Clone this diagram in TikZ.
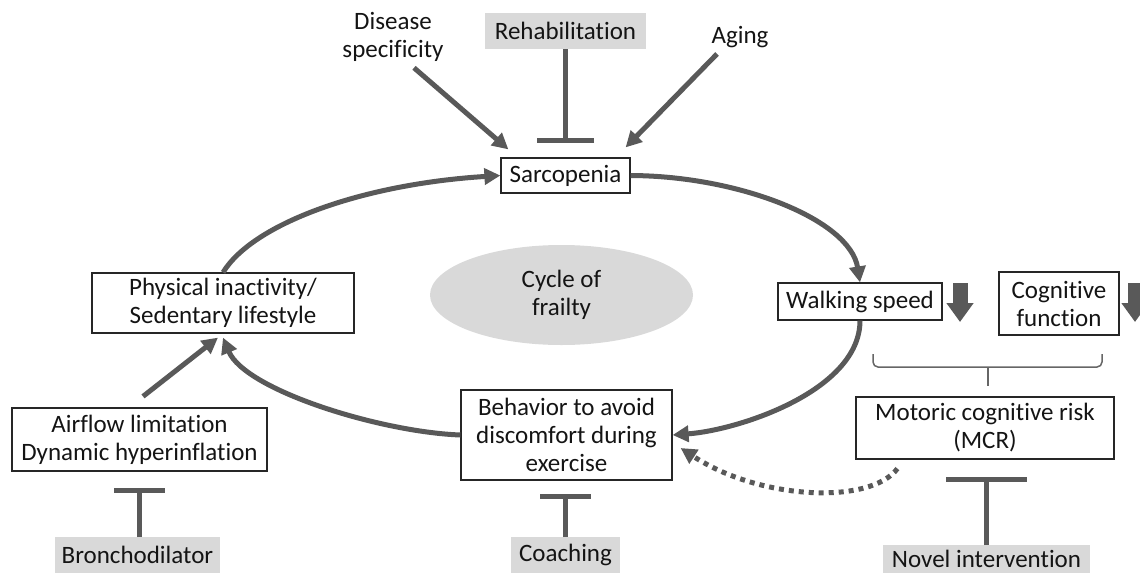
\documentclass[tikz,border=0pt]{standalone}
\usepackage{fontspec}
\setmainfont{Carlito}[RawFeature={-liga;-dlig;-clig}]
\usetikzlibrary{arrows.meta,calc,shapes.geometric}
\definecolor{lc}{HTML}{595959}
\definecolor{gf}{HTML}{D9D9D9}
\begin{document}
\begin{tikzpicture}[x=1pt,y=-1pt,
  every node/.style={font=\fontsize{25}{28}\selectfont, text=black!92, align=center, inner sep=0pt},
  box/.style={draw=black!85, line width=1.2pt, rectangle},
  gbox/.style={fill=gf, rectangle},
  arr/.style={draw=lc, line width=5pt, -{Triangle[length=16pt,width=16pt]}},
  inh/.style={draw=lc, line width=5pt, -{Bar[width=#1]}},
  dotarr/.style={draw=lc, line width=5pt, dash pattern=on 5pt off 5pt, -{Triangle[length=16pt,width=16pt]}},
  downarr/.style={draw=lc, line width=15pt, -{Triangle[length=19pt,width=26pt]}},
  brk/.style={draw=black!60, line width=1.5pt}
]
\useasboundingbox (0,0) rectangle (1140,573);

% nodes
\node[box, minimum width=129pt, minimum height=35pt] (sarc) at (565.5,175.5) {Sarcopenia};
\node[gbox, minimum width=161pt, minimum height=36pt] (rehab) at (565.5,31) {Rehabilitation};
\node (disease) at (393,37) {Disease\\specificity};
\node (aging) at (740,37) {Aging};
\node[ellipse, fill=gf, minimum width=263pt, minimum height=100pt] (cycle) at (561.5,295) {Cycle of\\frailty};
\node[box, minimum width=262pt, minimum height=60pt] (phys) at (223,303) {Physical inactivity/\\Sedentary lifestyle};
\node[box, minimum width=164pt, minimum height=37pt] (walk) at (860,301.5) {Walking speed};
\node[box, minimum width=120pt, minimum height=63pt] (cogn) at (1059,303.5) {Cognitive\\function};
\node[box, minimum width=258pt, minimum height=62pt] (mcr) at (985,428) {Motoric cognitive risk\\(MCR)};
\node[box, minimum width=211pt, minimum height=90pt] (behav) at (566.5,435) {Behavior to avoid\\discomfort during\\exercise};
\node[box, minimum width=255pt, minimum height=63pt] (air) at (139.5,439.5) {Airflow limitation\\Dynamic hyperinflation};
\node[gbox, minimum width=165pt, minimum height=36pt, anchor=north] (broncho) at (137.5,537) {Bronchodilator};
\node[gbox, minimum width=109pt, minimum height=36pt, anchor=north] (coach) at (565.5,537) {Coaching};
\node[gbox, minimum width=207pt, minimum height=28pt, anchor=north] (novel) at (986.5,545) {Novel intervention};

% inputs to sarcopenia
\draw[arr] ($(disease.south)+(21,6)$) -- ($(sarc.north west)+(8,-8)$);
\draw[arr] ($(aging.south)+(-23,6)$) -- ($(sarc.north east)+(-5,-10)$);
\draw[inh=57pt, shorten >=14pt] (rehab.south) -- (rehab.south |- sarc.north);

% cycle
\draw[arr] (phys.north) .. controls (253.5,223) and (363.5,184) .. (sarc.west);
\draw[arr] (sarc.east) .. controls (740,176) and (850,220) .. (walk.north);
\draw[arr] (walk.south) .. controls (860,390) and (740,430) .. (behav.east);
\draw[arr] (behav.west) .. controls (380,432) and (245,390) .. ($(phys.south)+(0,4)$);
\draw[arr] ($(air.north)+(3.5,-11)$) -- ($(phys.south)+(-5,4)$);

% inhibitors
\draw[inh=51pt, shorten >=16pt] (air.south |- broncho.north) -- (air.south);
\draw[inh=51pt, shorten >=13pt] (coach.north) -- (coach.north |- behav.south);
\draw[inh=81pt, shorten >=17pt] (novel.north) -- (novel.north |- mcr.south);

% dotted
\draw[dotarr] ($(mcr.south west)+(42,9)$) .. controls (870,505) and (760,500) .. ($(behav.east)+(8,13)$);

% down arrows
\draw[downarr] (960,283) -- (960,322);
\draw[downarr] (1135,283) -- (1135,322);

% bracket
\draw[brk, rounded corners=5pt] (873,354) -- (873,367) -- (1102,367) -- (1102,354);
\draw[brk] (988,367) -- (988,386);
\end{tikzpicture}
\end{document}
